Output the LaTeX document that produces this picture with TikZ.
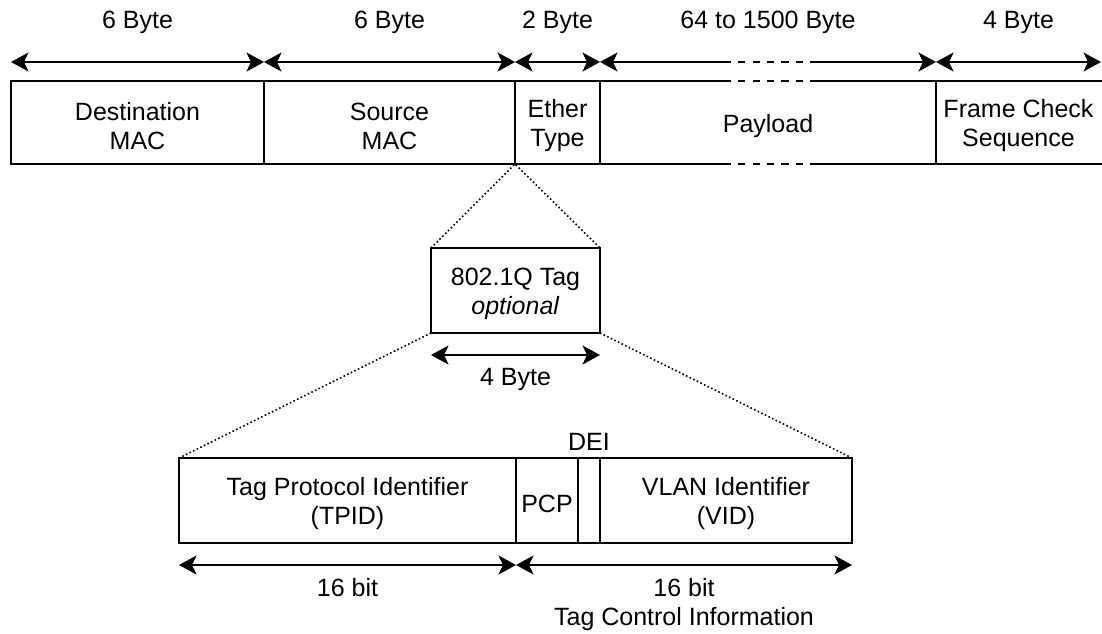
\documentclass[tikz,border=0pt]{standalone}
\usepackage{fontspec}
\setmainfont{Liberation Sans}
\usetikzlibrary{arrows.meta,calc}
\begin{document}
\begin{tikzpicture}[x=1pt,y=-1pt,
  lbl/.style={font=\fontsize{25}{29}\selectfont, inner sep=0pt, align=center},
  txt/.style={label={[lbl, yshift=-3.5pt]center:{#1}}},
  cell/.style={draw, line width=2pt, outer sep=0pt, inner sep=0pt, minimum height=83pt},
  bare/.style={outer sep=0pt, inner sep=0pt, minimum height=83pt},
  frame/.style={line width=2pt},
  tipe/.tip={Stealth[length=17.5pt,width=19pt,inset=4.5pt]},
  dim/.style={line width=2pt, tipe-tipe},
  zoomline/.style={line width=1.6pt, dash pattern=on 1.6pt off 2.4pt},
  gapdash/.style={line width=2pt, dash pattern=on 7.2pt off 7.2pt, dash phase=7.2pt},
]
\useasboundingbox (0,0) rectangle (1102,633);
\fill[white] (0,0) rectangle (1102,633);

% Ethernet frame
\node[cell, minimum width=253pt, txt={Destination\\MAC}] (dst) at (137.5,122.5) {};
\node[cell, minimum width=251pt, txt={Source\\MAC}]      (src) at (389.5,122.5) {};
\node[cell, minimum width=85pt,  txt={Ether\\Type}]      (eth) at (557.5,122.5) {};
\node[bare, minimum width=336pt, txt={Payload}]          (pay) at (768,122.5) {};
\node[bare, minimum width=165pt, txt={Frame Check\\Sequence}] (fcs) at (1018.5,122.5) {};

% payload borders, broken in the middle
\coordinate (ptl) at ($(pay.north west)+(131,0)$);
\coordinate (ptr) at ($(pay.north west)+(210,0)$);
\coordinate (pbl) at ($(pay.south west)+(131,0)$);
\coordinate (pbr) at ($(pay.south west)+(210,0)$);
\draw[frame] (pay.north west) -- (ptl);
\draw[gapdash] (ptl) -- (ptr);
\draw[frame] (ptr) -- (pay.north east);
\draw[frame] (pay.south west) -- (pbl);
\draw[gapdash] (pbl) -- (pbr);
\draw[frame] (pbr) -- (pay.south east);

% frame check sequence, open towards the right edge
\draw[frame] ($(fcs.north east)+(4,0)$) -- (fcs.north west) -- (fcs.south west) -- ($(fcs.south east)+(4,0)$);

% byte widths above the frame
\coordinate (t0) at ($(dst.north west)+(0,-19)$);
\coordinate (t1) at ($(src.north west)+(0,-19)$);
\coordinate (t2) at ($(eth.north west)+(0,-19)$);
\coordinate (t3) at ($(pay.north west)+(0,-19)$);
\coordinate (t3a) at ($(ptl)+(0,-19)$);
\coordinate (t3b) at ($(ptr)+(0,-19)$);
\coordinate (t4) at ($(fcs.north west)+(0,-19)$);
\coordinate (t5) at ($(fcs.north east)+(0,-19)$);
\draw[dim] (t0) -- (t1);
\draw[dim] (t1) -- (t2);
\draw[dim] (t2) -- (t3);
\draw[frame, tipe-] (t3) -- (t3a);
\draw[gapdash] (t3a) -- (t3b);
\draw[frame, -tipe] (t3b) -- (t4);
\draw[dim] (t4) -- (t5);

\node[lbl] (ldst) at ($(dst.north)+(0,-59)$) {6 Byte};
\node[lbl] (lsrc) at ($(src.north)+(0,-59)$) {6 Byte};
\node[lbl] (leth) at ($(eth.north)+(0,-59)$) {2 Byte};
\node[lbl] (lpay) at ($(pay.north)+(0,-59)$) {64 to 1500 Byte};
\node[lbl] (lfcs) at ($(fcs.north)+(0,-59)$) {4 Byte};

% 802.1Q tag
\node[cell, minimum width=169pt, minimum height=85pt, txt={802.1Q Tag\\\textit{optional}}] (tag) at (515.5,290.5) {};
\draw[zoomline] (tag.north west) -- (eth.south west) -- (tag.north east);
\coordinate (g0) at ($(tag.south west)+(0,22)$);
\coordinate (g1) at ($(tag.south east)+(0,22)$);
\draw[dim] (g0) -- (g1);
\node[lbl] (ltag) at ($(tag.south)+(0,46)$) {4 Byte};

% tag fields
\node[cell, minimum width=337pt, minimum height=85pt, txt={Tag Protocol Identifier\\(TPID)}] (tpid) at (347.5,500.5) {};
\node[cell, minimum width=62pt,  minimum height=85pt, txt={PCP}] (pcp) at (547,500.5) {};
\node[cell, minimum width=22pt,  minimum height=85pt] (dei) at (589,500.5) {};
\node[cell, minimum width=252pt, minimum height=85pt, txt={VLAN Identifier\\(VID)}] (vid) at (726,500.5) {};
\node[lbl] (ldei) at ($(dei.north)+(0,-16)$) {DEI};

\draw[zoomline] (tag.south west) -- (tpid.north west);
\draw[zoomline] (tag.south east) -- (vid.north east);

\coordinate (b0) at ($(tpid.south west)+(0,22)$);
\coordinate (b1) at ($(tpid.south east)+(0,22)$);
\coordinate (b2) at ($(vid.south east)+(0,22)$);
\draw[dim] (b0) -- (b1);
\draw[dim] (b1) -- (b2);
\node[lbl] (ltpid) at ($(tpid.south)+(0,45)$) {16 bit};
\node[lbl] (ltci)  at ($($(pcp.south west)!0.5!(vid.south east)$)+(0,45)$) {16 bit};
\node[lbl] (ltcin) at ($(ltci)+(0,31)$) {Tag Control Information};
\end{tikzpicture}
\end{document}
